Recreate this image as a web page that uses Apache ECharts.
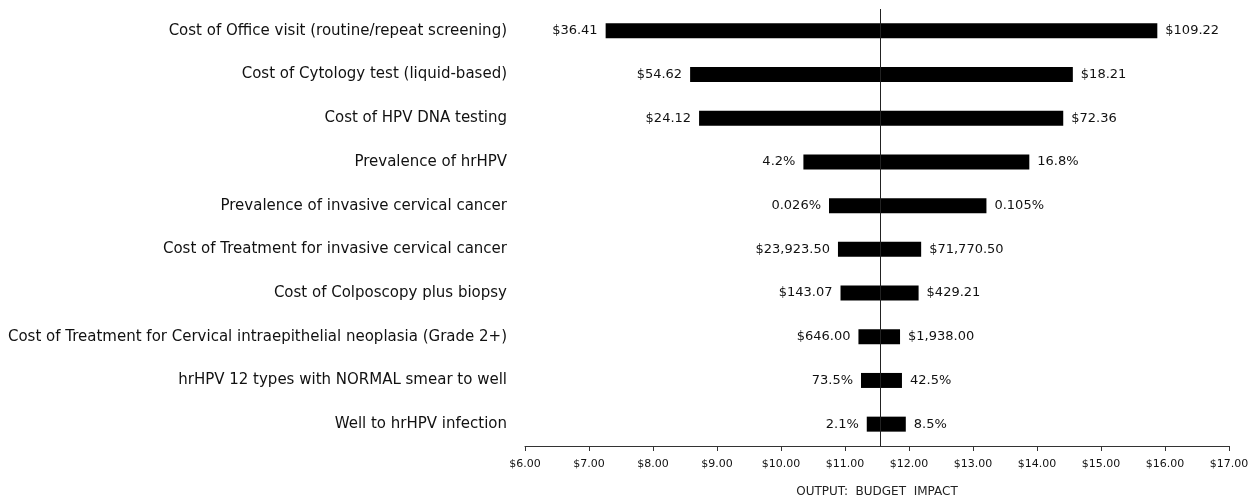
<!DOCTYPE html>
<html>
<head>
<meta charset="utf-8">
<script src="https://cdn.jsdelivr.net/npm/echarts@6/dist/echarts.min.js"></script>
<style>
  html, body { margin: 0; padding: 0; background: #fff; }
  #main { width: 1260px; height: 504px; }
</style>
</head>
<body>
<div id="main"></div>
<script>
// parameters, top to bottom
var categories = [
  "Cost of Office visit (routine/repeat screening)",
  "Cost of Cytology test (liquid-based)",
  "Cost of HPV DNA testing",
  "Prevalence of hrHPV",
  "Prevalence of invasive cervical cancer",
  "Cost of Treatment for invasive cervical cancer",
  "Cost of Colposcopy plus biopsy",
  "Cost of Treatment for Cervical intraepithelial neoplasia (Grade 2+)",
  "hrHPV 12 types with NORMAL smear to well",
  "Well to hrHPV infection"
];
// budget impact at each end of the range
var lowValues = [7.26, 8.58, 8.72, 10.35, 10.75, 10.89, 10.93, 11.21, 11.25, 11.34];
var highValues = [15.88, 14.56, 14.41, 13.88, 13.21, 12.19, 12.15, 11.86, 11.89, 11.95];
// parameter values shown beside the bars
var lowLabels = ["$36.41", "$54.62", "$24.12", "4.2%", "0.026%", "$23,923.50", "$143.07", "$646.00", "73.5%", "2.1%"];
var highLabels = ["$109.22", "$18.21", "$72.36", "16.8%", "0.105%", "$71,770.50", "$429.21", "$1,938.00", "42.5%", "8.5%"];
var baseValue = 11.55;

var chart = echarts.init(document.getElementById("main"));

var fontFam = "DejaVu Sans";
var offset = lowValues.slice();
var leftPart = lowValues.map(function (v) { return +(baseValue - v).toFixed(3); });
var rightPart = highValues.map(function (v) { return +(v - baseValue).toFixed(3); });

var option = {
  backgroundColor: "#fff",
  animation: false,
  grid: { left: 525, right: 31, top: 9, bottom: 58 },
  xAxis: {
    type: "value",
    min: 6,
    max: 17,
    interval: 1,
    name: "OUTPUT:  BUDGET  IMPACT",
    nameLocation: "middle",
    nameGap: 40,
    nameTextStyle: { color: "#222", fontSize: 12, fontFamily: fontFam },
    axisLine: { show: true, lineStyle: { color: "#333", width: 1 } },
    axisTick: { show: true, length: 5, lineStyle: { color: "#333" } },
    axisLabel: {
      color: "#111",
      fontSize: 11,
      fontFamily: fontFam,
      margin: 13,
      formatter: function (v) { return "$" + v.toFixed(2); }
    },
    splitLine: { show: false }
  },
  yAxis: {
    type: "category",
    inverse: true,
    data: categories,
    axisLine: { show: false },
    axisTick: { show: false },
    axisLabel: { color: "#111", fontSize: 15, fontFamily: fontFam, margin: 18 }
  },
  series: [
    {
      type: "bar",
      stack: "t",
      barWidth: 15,
      itemStyle: { color: "transparent" },
      silent: true,
      data: offset
    },
    {
      type: "bar",
      stack: "t",
      barWidth: 15,
      itemStyle: { color: "#000" },
      label: {
        show: true,
        position: "left",
        distance: 8,
        color: "#111",
        fontSize: 13,
        fontFamily: fontFam,
        formatter: function (p) { return lowLabels[p.dataIndex]; }
      },
      data: leftPart,
      markLine: {
        silent: true,
        symbol: "none",
        label: { show: false },
        lineStyle: { color: "#222", width: 1, type: "solid" },
        data: [{ xAxis: baseValue }]
      }
    },
    {
      type: "bar",
      stack: "t",
      barWidth: 15,
      itemStyle: { color: "#000" },
      label: {
        show: true,
        position: "right",
        distance: 8,
        color: "#111",
        fontSize: 13,
        fontFamily: fontFam,
        formatter: function (p) { return highLabels[p.dataIndex]; }
      },
      data: rightPart
    }
  ]
};

chart.setOption(option);
window.onresize = function () {
  chart.resize();
};
</script>
</body>
</html>
